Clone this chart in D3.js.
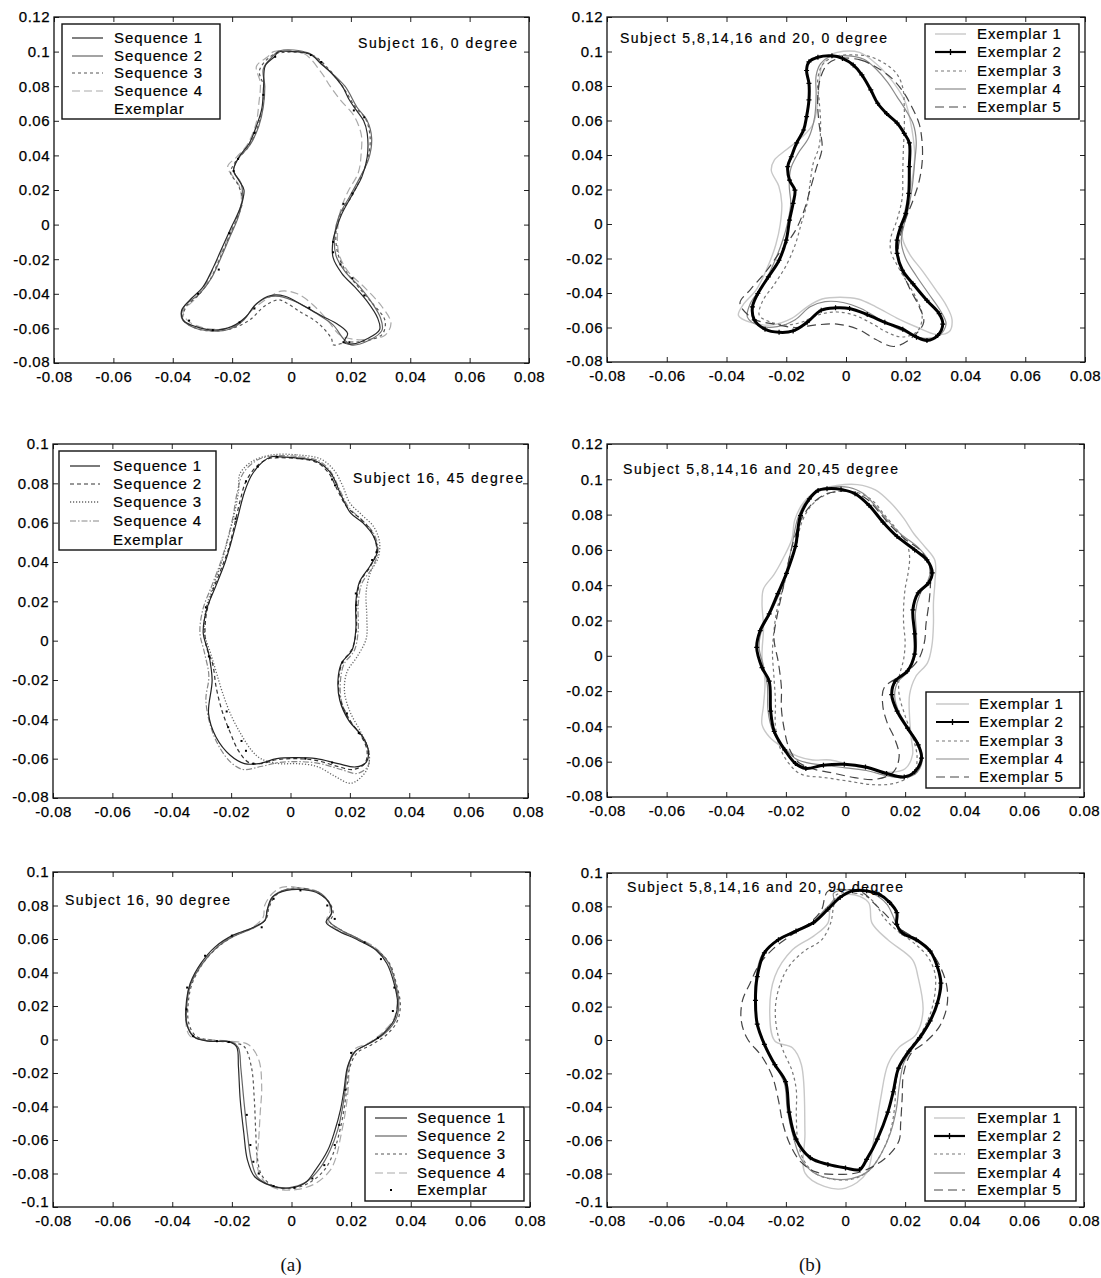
<!DOCTYPE html>
<html>
<head>
<meta charset="utf-8">
<title>Silhouette contours</title>
<script src="https://cdn.jsdelivr.net/npm/d3@7/dist/d3.min.js"></script>
<style>
  body { margin: 0; background: #fff; }
  svg { display: block; font-family: "Liberation Sans", Arial, sans-serif; }
  .tick-label { font-size: 15px; letter-spacing: 0.5px; fill: #000; stroke: #000; stroke-width: 0.25px; }
  .legend-text { font-size: 15px; letter-spacing: 0.9px; fill: #000; stroke: #000; stroke-width: 0.2px; }
  .title-text { font-size: 14px; fill: #000; stroke: #000; stroke-width: 0.2px; }
  .caption { font-family: "Liberation Serif", "Times New Roman", serif; font-size: 19px; fill: #111; }
</style>
</head>
<body>
<svg id="fig" width="1101" height="1278"></svg>
<script>

// ---- axis ticks ----
var xTicks = [-0.08, -0.06, -0.04, -0.02, 0, 0.02, 0.04, 0.06, 0.08];
var yTicksA = [-0.08, -0.06, -0.04, -0.02, 0, 0.02, 0.04, 0.06, 0.08, 0.1, 0.12];
var yTicksB = [-0.08, -0.06, -0.04, -0.02, 0, 0.02, 0.04, 0.06, 0.08, 0.1];
var yTicksC = [-0.1, -0.08, -0.06, -0.04, -0.02, 0, 0.02, 0.04, 0.06, 0.08, 0.1];

var seqNames = ["Sequence 1", "Sequence 2", "Sequence 3", "Sequence 4", "Exemplar"];
var exNames = ["Exemplar 1", "Exemplar 2", "Exemplar 3", "Exemplar 4", "Exemplar 5"];

// ---- (a) subject 16, 0 degree ----
var p1Seq1 = [[0.0002,0.100],[0.0063,0.0985],[0.0099,0.093],[0.0135,0.0875],[0.0171,0.080],[0.0195,0.072],[0.0219,0.066],[0.0243,0.060],[0.0255,0.0528],[0.0255,0.039],[0.0237,0.0276],[0.0207,0.018],[0.017,0.0064],[0.0153,-0.0013],[0.014,-0.009],[0.014,-0.019],[0.017,-0.0283],[0.0213,-0.036],[0.0255,-0.0444],[0.029,-0.054],[0.0297,-0.0606],[0.0255,-0.066],[0.0207,-0.069],[0.0177,-0.068],[0.0189,-0.063],[0.0159,-0.058],[0.0099,-0.0525],[0.0038,-0.0467],[-0.0022,-0.0414],[-0.007,-0.041],[-0.0118,-0.0457],[-0.0154,-0.0534],[-0.0202,-0.059],[-0.0262,-0.061],[-0.0322,-0.059],[-0.0364,-0.0553],[-0.037,-0.0495],[-0.0346,-0.0442],[-0.0298,-0.036],[-0.0268,-0.0264],[-0.0238,-0.015],[-0.0202,-0.0013],[-0.0172,0.010],[-0.016,0.020],[-0.0177,0.0255],[-0.0195,0.0315],[-0.0177,0.039],[-0.0142,0.047],[-0.0118,0.057],[-0.010,0.067],[-0.0094,0.080],[-0.0088,0.092],[-0.0058,0.097],[-0.0045,0.0997]];
var p1Seq2 = [[-0.004,0.1005],[0.006,0.099],[0.012,0.090],[0.018,0.080],[0.022,0.068],[0.0255,0.060],[0.027,0.050],[0.026,0.038],[0.023,0.027],[0.0195,0.016],[0.016,0.005],[0.0145,-0.006],[0.015,-0.018],[0.018,-0.027],[0.023,-0.036],[0.027,-0.045],[0.030,-0.054],[0.0305,-0.061],[0.026,-0.067],[0.020,-0.0695],[0.0175,-0.066],[0.014,-0.058],[0.008,-0.051],[0.002,-0.045],[-0.004,-0.0415],[-0.008,-0.042],[-0.0125,-0.047],[-0.016,-0.055],[-0.021,-0.0605],[-0.027,-0.0615],[-0.033,-0.0595],[-0.037,-0.054],[-0.036,-0.047],[-0.031,-0.040],[-0.027,-0.031],[-0.024,-0.020],[-0.021,-0.008],[-0.018,0.004],[-0.0165,0.015],[-0.017,0.024],[-0.0195,0.031],[-0.018,0.038],[-0.014,0.046],[-0.011,0.057],[-0.0095,0.068],[-0.009,0.080],[-0.0095,0.090],[-0.0065,0.097]];
var p1Seq3 = [[-0.003,0.0995],[0.007,0.098],[0.013,0.089],[0.0175,0.079],[0.0215,0.068],[0.025,0.061],[0.0265,0.050],[0.0258,0.039],[0.0235,0.028],[0.0205,0.017],[0.0165,0.006],[0.015,-0.004],[0.0155,-0.016],[0.018,-0.026],[0.0225,-0.036],[0.0275,-0.046],[0.0315,-0.0555],[0.0305,-0.0635],[0.024,-0.0675],[0.0185,-0.068],[0.014,-0.0695],[0.0135,-0.066],[0.009,-0.057],[0.003,-0.0505],[-0.002,-0.045],[-0.0045,-0.0435],[-0.009,-0.047],[-0.014,-0.055],[-0.020,-0.060],[-0.026,-0.0615],[-0.032,-0.060],[-0.0365,-0.055],[-0.0355,-0.0475],[-0.0315,-0.041],[-0.0275,-0.032],[-0.0245,-0.021],[-0.0215,-0.009],[-0.0185,0.003],[-0.0165,0.014],[-0.018,0.023],[-0.0205,0.030],[-0.019,0.036],[-0.0145,0.045],[-0.0115,0.056],[-0.0098,0.067],[-0.0092,0.079],[-0.0108,0.089],[-0.0068,0.0975]];
var p1Seq4 = [[-0.006,0.100],[0.004,0.099],[0.010,0.088],[0.013,0.080],[0.0165,0.072],[0.021,0.063],[0.0235,0.052],[0.0235,0.042],[0.0225,0.030],[0.019,0.019],[0.0165,0.008],[0.0155,-0.005],[0.016,-0.017],[0.019,-0.027],[0.025,-0.037],[0.0305,-0.0475],[0.0335,-0.057],[0.0315,-0.064],[0.027,-0.066],[0.022,-0.0665],[0.0165,-0.064],[0.012,-0.055],[0.007,-0.046],[0.002,-0.040],[-0.0035,-0.0385],[-0.008,-0.0425],[-0.013,-0.049],[-0.018,-0.0575],[-0.024,-0.0605],[-0.030,-0.0595],[-0.035,-0.0555],[-0.0365,-0.050],[-0.033,-0.044],[-0.029,-0.035],[-0.026,-0.024],[-0.0225,-0.012],[-0.0195,0.000],[-0.017,0.012],[-0.0175,0.022],[-0.0215,0.0335],[-0.0185,0.039],[-0.015,0.046],[-0.012,0.058],[-0.011,0.070],[-0.0105,0.082],[-0.0118,0.0915],[-0.008,0.097]];
var p1Exemplar = [[0.0065,0.098],[0.010,0.094],[0.021,0.066],[0.0245,0.062],[0.0205,0.018],[0.0175,0.012],[0.014,-0.010],[0.014,-0.016],[0.0165,-0.023],[0.0205,-0.031],[0.0245,-0.041],[0.0175,-0.068],[0.0195,-0.068],[0.006,-0.048],[-0.0125,-0.0485],[-0.0175,-0.0565],[-0.0265,-0.061],[-0.0345,-0.0555],[-0.0315,-0.040],[-0.0245,-0.026],[-0.021,-0.005],[-0.0195,0.031],[-0.018,0.038],[-0.0125,0.053],[-0.0095,0.075],[-0.0055,0.097]];

// ---- (b) subjects 5,8,14,16,20, 0 degree ----
var p2Ex1 = [[-0.003,0.0995],[0.0045,0.0995],[0.010,0.093],[0.014,0.086],[0.0175,0.078],[0.020,0.070],[0.0215,0.060],[0.0225,0.050],[0.023,0.040],[0.0225,0.030],[0.0215,0.020],[0.020,0.010],[0.019,0.000],[0.019,-0.009],[0.0215,-0.018],[0.0255,-0.027],[0.030,-0.038],[0.0335,-0.047],[0.0355,-0.0555],[0.0345,-0.0625],[0.030,-0.064],[0.024,-0.060],[0.017,-0.0545],[0.010,-0.048],[0.004,-0.0435],[-0.002,-0.0425],[-0.008,-0.0435],[-0.013,-0.048],[-0.018,-0.0545],[-0.025,-0.0585],[-0.032,-0.057],[-0.036,-0.053],[-0.0345,-0.047],[-0.030,-0.038],[-0.0265,-0.026],[-0.0235,-0.012],[-0.022,0.000],[-0.0215,0.012],[-0.0225,0.022],[-0.025,0.031],[-0.024,0.037],[-0.020,0.043],[-0.015,0.050],[-0.011,0.058],[-0.0095,0.070],[-0.009,0.082],[-0.008,0.092],[-0.005,0.098]];
var p2Ex2 = [[-0.0047,0.0975],[-0.0094,0.0967],[-0.0124,0.094],[-0.0132,0.089],[-0.0124,0.0815],[-0.0124,0.072],[-0.0132,0.0623],[-0.0142,0.0545],[-0.0165,0.047],[-0.0183,0.039],[-0.0195,0.0333],[-0.0189,0.0254],[-0.0171,0.0196],[-0.0177,0.012],[-0.0189,0.0023],[-0.020,-0.0093],[-0.0224,-0.021],[-0.026,-0.0307],[-0.0295,-0.0403],[-0.0313,-0.048],[-0.0307,-0.0556],[-0.0271,-0.061],[-0.0224,-0.0628],[-0.0177,-0.062],[-0.013,-0.057],[-0.0083,-0.050],[-0.0035,-0.0486],[0.0012,-0.049],[0.0071,-0.0525],[0.013,-0.057],[0.019,-0.061],[0.0236,-0.0656],[0.0271,-0.0675],[0.0307,-0.0646],[0.0324,-0.058],[0.0312,-0.052],[0.0271,-0.0443],[0.0224,-0.0346],[0.0189,-0.0268],[0.0171,-0.017],[0.0171,-0.0093],[0.0183,-0.0016],[0.020,0.0062],[0.021,0.0178],[0.0212,0.0333],[0.0212,0.047],[0.0195,0.0525],[0.0171,0.0585],[0.0136,0.064],[0.0106,0.070],[0.0083,0.0777],[0.0053,0.0865],[0.0024,0.0922],[-0.0012,0.096]];
var p2Ex3 = [[-0.004,0.097],[0.003,0.098],[0.008,0.097],[0.013,0.093],[0.017,0.087],[0.019,0.079],[0.0195,0.068],[0.0195,0.055],[0.0192,0.043],[0.019,0.030],[0.0188,0.015],[0.017,0.002],[0.015,-0.008],[0.015,-0.016],[0.0175,-0.025],[0.0205,-0.034],[0.0235,-0.043],[0.0255,-0.053],[0.024,-0.062],[0.019,-0.0655],[0.014,-0.063],[0.009,-0.058],[0.003,-0.053],[-0.003,-0.051],[-0.009,-0.0525],[-0.015,-0.057],[-0.020,-0.0585],[-0.025,-0.057],[-0.029,-0.053],[-0.028,-0.045],[-0.024,-0.035],[-0.020,-0.024],[-0.017,-0.012],[-0.015,0.000],[-0.013,0.012],[-0.012,0.024],[-0.011,0.035],[-0.009,0.045],[-0.0085,0.058],[-0.009,0.072],[-0.0095,0.083],[-0.008,0.092]];
var p2Ex4 = [[-0.006,0.0965],[0.001,0.0975],[0.006,0.0955],[0.010,0.090],[0.014,0.082],[0.017,0.074],[0.020,0.066],[0.0225,0.058],[0.0235,0.048],[0.023,0.036],[0.0222,0.022],[0.021,0.010],[0.0195,0.000],[0.0185,-0.010],[0.020,-0.020],[0.0235,-0.030],[0.0275,-0.040],[0.0315,-0.050],[0.0335,-0.058],[0.031,-0.065],[0.025,-0.066],[0.019,-0.062],[0.012,-0.056],[0.005,-0.049],[-0.001,-0.0455],[-0.007,-0.045],[-0.012,-0.048],[-0.017,-0.0555],[-0.023,-0.0595],[-0.029,-0.059],[-0.033,-0.054],[-0.032,-0.046],[-0.028,-0.036],[-0.0245,-0.024],[-0.0215,-0.011],[-0.0195,0.001],[-0.0185,0.012],[-0.019,0.022],[-0.0185,0.032],[-0.016,0.041],[-0.0125,0.050],[-0.0105,0.062],[-0.010,0.075],[-0.010,0.086],[-0.0085,0.093]];
var p2Ex5 = [[-0.002,0.096],[0.005,0.095],[0.010,0.091],[0.015,0.085],[0.019,0.077],[0.022,0.068],[0.0245,0.058],[0.0255,0.047],[0.0255,0.036],[0.0245,0.025],[0.0225,0.014],[0.020,0.003],[0.018,-0.008],[0.0175,-0.018],[0.019,-0.028],[0.0215,-0.038],[0.0245,-0.048],[0.026,-0.057],[0.022,-0.066],[0.016,-0.071],[0.010,-0.067],[0.004,-0.061],[-0.003,-0.058],[-0.010,-0.0585],[-0.017,-0.060],[-0.024,-0.058],[-0.031,-0.055],[-0.0355,-0.046],[-0.032,-0.038],[-0.027,-0.028],[-0.022,-0.016],[-0.017,-0.004],[-0.014,0.008],[-0.012,0.020],[-0.010,0.032],[-0.008,0.044],[-0.009,0.058],[-0.0095,0.072],[-0.0085,0.085],[-0.006,0.093]];

// ---- (a) subject 16, 45 degree ----
var p3Seq1 = [[-0.0034,0.0935],[0.0027,0.0928],[0.0087,0.0912],[0.0135,0.0853],[0.0172,0.0734],[0.0202,0.065],[0.0244,0.0599],[0.028,0.053],[0.0292,0.045],[0.0268,0.038],[0.0232,0.0297],[0.022,0.0195],[0.022,0.0056],[0.0208,-0.0046],[0.0172,-0.0114],[0.016,-0.020],[0.0166,-0.0303],[0.0196,-0.0405],[0.0244,-0.049],[0.0262,-0.0557],[0.0256,-0.0616],[0.022,-0.0642],[0.016,-0.0625],[0.0087,-0.060],[0.0015,-0.0595],[-0.0046,-0.060],[-0.0106,-0.0625],[-0.0155,-0.0625],[-0.0203,-0.0583],[-0.0251,-0.049],[-0.0276,-0.0371],[-0.0264,-0.020],[-0.0276,-0.0063],[-0.0294,0.0039],[-0.0282,0.0161],[-0.0251,0.028],[-0.022,0.040],[-0.0203,0.0484],[-0.0179,0.062],[-0.0155,0.0756],[-0.0131,0.0841],[-0.0094,0.0909],[-0.0064,0.0935]];
var p3Seq2 = [[-0.004,0.093],[0.003,0.0925],[0.009,0.0905],[0.013,0.085],[0.016,0.076],[0.019,0.068],[0.0235,0.062],[0.0275,0.055],[0.029,0.046],[0.027,0.038],[0.0235,0.030],[0.0222,0.019],[0.0222,0.006],[0.0208,-0.004],[0.0175,-0.011],[0.0162,-0.020],[0.0168,-0.030],[0.0198,-0.040],[0.024,-0.049],[0.0258,-0.056],[0.025,-0.0625],[0.021,-0.0655],[0.016,-0.064],[0.009,-0.061],[0.002,-0.060],[-0.0045,-0.0605],[-0.010,-0.0625],[-0.014,-0.062],[-0.0175,-0.056],[-0.0205,-0.046],[-0.023,-0.036],[-0.025,-0.024],[-0.0262,-0.012],[-0.0285,-0.002],[-0.0285,0.012],[-0.0265,0.024],[-0.0235,0.036],[-0.021,0.046],[-0.019,0.058],[-0.017,0.071],[-0.015,0.081],[-0.0115,0.0885],[-0.0075,0.0925]];
var p3Seq3 = [[-0.006,0.0945],[0.002,0.0945],[0.010,0.0925],[0.0145,0.087],[0.0175,0.079],[0.020,0.070],[0.024,0.064],[0.028,0.058],[0.030,0.050],[0.0295,0.042],[0.027,0.035],[0.0255,0.025],[0.0257,0.012],[0.0255,0.001],[0.0225,-0.008],[0.019,-0.016],[0.0182,-0.026],[0.020,-0.036],[0.0235,-0.046],[0.0262,-0.055],[0.0262,-0.064],[0.023,-0.0705],[0.020,-0.0725],[0.015,-0.069],[0.009,-0.064],[0.002,-0.0625],[-0.004,-0.0625],[-0.010,-0.060],[-0.013,-0.056],[-0.0165,-0.048],[-0.020,-0.038],[-0.023,-0.026],[-0.025,-0.016],[-0.027,-0.006],[-0.029,0.004],[-0.0285,0.016],[-0.026,0.028],[-0.0232,0.040],[-0.021,0.052],[-0.019,0.064],[-0.0175,0.076],[-0.017,0.085],[-0.0125,0.0915]];
var p3Seq4 = [[-0.005,0.094],[0.003,0.0935],[0.0095,0.0915],[0.0135,0.086],[0.0165,0.077],[0.0195,0.068],[0.024,0.0615],[0.028,0.0545],[0.0295,0.046],[0.0275,0.037],[0.024,0.029],[0.0228,0.018],[0.0228,0.005],[0.0215,-0.005],[0.018,-0.012],[0.0168,-0.021],[0.0172,-0.031],[0.0202,-0.041],[0.0245,-0.050],[0.0265,-0.057],[0.026,-0.064],[0.0225,-0.0675],[0.017,-0.0655],[0.010,-0.0625],[0.003,-0.0615],[-0.004,-0.062],[-0.010,-0.064],[-0.016,-0.0655],[-0.020,-0.062],[-0.024,-0.054],[-0.027,-0.043],[-0.0285,-0.030],[-0.0275,-0.018],[-0.029,-0.006],[-0.0305,0.004],[-0.0295,0.016],[-0.0265,0.028],[-0.0235,0.040],[-0.0215,0.050],[-0.0195,0.062],[-0.018,0.075],[-0.016,0.085],[-0.011,0.092]];
var p3Exemplar = [[-0.0045,0.0935],[-0.011,0.0885],[-0.015,0.081],[-0.0185,0.062],[-0.0285,0.017],[-0.0275,-0.008],[-0.0215,-0.036],[-0.021,-0.044],[-0.0165,-0.051],[-0.015,-0.056],[-0.0125,-0.0625],[0.014,0.082],[0.015,0.079],[0.029,0.045],[0.0275,0.041],[0.022,0.024],[0.0222,0.018],[0.0175,-0.011],[0.019,-0.037],[0.023,-0.047],[0.014,-0.062],[0.005,-0.060]];

// ---- (b) subjects 5,8,14,16,20, 45 degree ----
var p4Ex1 = [[-0.003,0.0965],[0.004,0.097],[0.010,0.094],[0.015,0.087],[0.0195,0.078],[0.023,0.069],[0.0265,0.062],[0.030,0.054],[0.030,0.042],[0.0295,0.030],[0.0295,0.018],[0.029,0.006],[0.0275,-0.004],[0.0235,-0.012],[0.0215,-0.022],[0.0215,-0.035],[0.022,-0.046],[0.0225,-0.056],[0.020,-0.064],[0.015,-0.066],[0.008,-0.064],[0.002,-0.062],[-0.005,-0.059],[-0.011,-0.059],[-0.016,-0.057],[-0.021,-0.052],[-0.0255,-0.046],[-0.028,-0.039],[-0.0275,-0.028],[-0.027,-0.015],[-0.028,0.000],[-0.0275,0.016],[-0.028,0.030],[-0.0275,0.038],[-0.024,0.046],[-0.021,0.055],[-0.018,0.066],[-0.017,0.077],[-0.014,0.087],[-0.009,0.094]];
var p4Ex2 = [[-0.0062,0.0947],[-0.0015,0.0943],[0.0032,0.0918],[0.0079,0.0852],[0.0126,0.0757],[0.0173,0.0676],[0.0232,0.060],[0.0273,0.0543],[0.0291,0.047],[0.0279,0.0413],[0.0244,0.0357],[0.0226,0.026],[0.0232,0.0124],[0.0232,0.001],[0.0208,-0.0086],[0.0167,-0.0143],[0.0155,-0.022],[0.0173,-0.0314],[0.0208,-0.041],[0.0244,-0.0505],[0.0255,-0.058],[0.0232,-0.0657],[0.0197,-0.0686],[0.0138,-0.0667],[0.0067,-0.063],[-0.0004,-0.0615],[-0.0074,-0.062],[-0.0133,-0.0638],[-0.0168,-0.061],[-0.0204,-0.0533],[-0.0239,-0.0429],[-0.0251,-0.0314],[-0.0256,-0.0143],[-0.028,-0.0067],[-0.0298,0.0048],[-0.0286,0.0143],[-0.0256,0.0238],[-0.0227,0.0352],[-0.0198,0.0467],[-0.0168,0.062],[-0.0151,0.0795],[-0.0121,0.0889],[-0.0092,0.0937]];
var p4Ex3 = [[-0.003,0.093],[0.004,0.0925],[0.009,0.088],[0.013,0.080],[0.017,0.072],[0.0205,0.064],[0.0215,0.056],[0.021,0.047],[0.020,0.038],[0.0195,0.028],[0.0195,0.018],[0.020,0.008],[0.0195,-0.002],[0.018,-0.012],[0.018,-0.022],[0.020,-0.034],[0.0225,-0.046],[0.024,-0.057],[0.023,-0.066],[0.017,-0.072],[0.009,-0.073],[0.001,-0.071],[-0.007,-0.069],[-0.015,-0.067],[-0.019,-0.061],[-0.022,-0.052],[-0.0235,-0.040],[-0.0235,-0.026],[-0.024,-0.012],[-0.0245,0.002],[-0.024,0.014],[-0.023,0.026],[-0.021,0.038],[-0.019,0.050],[-0.0165,0.062],[-0.015,0.074],[-0.012,0.084],[-0.008,0.090]];
var p4Ex4 = [[-0.005,0.0955],[0.001,0.0955],[0.006,0.092],[0.010,0.085],[0.014,0.077],[0.0185,0.069],[0.024,0.062],[0.0275,0.055],[0.0285,0.048],[0.0275,0.042],[0.025,0.035],[0.0235,0.025],[0.0238,0.012],[0.0235,0.001],[0.021,-0.009],[0.0175,-0.015],[0.0165,-0.023],[0.018,-0.032],[0.0212,-0.041],[0.0245,-0.050],[0.0258,-0.058],[0.024,-0.066],[0.020,-0.069],[0.014,-0.068],[0.007,-0.065],[0.000,-0.0635],[-0.007,-0.062],[-0.013,-0.0605],[-0.017,-0.058],[-0.021,-0.051],[-0.0245,-0.042],[-0.026,-0.031],[-0.0262,-0.017],[-0.0275,-0.006],[-0.029,0.005],[-0.028,0.015],[-0.025,0.025],[-0.022,0.036],[-0.020,0.047],[-0.018,0.062],[-0.016,0.078],[-0.013,0.088],[-0.009,0.094]];
var p4Ex5 = [[-0.006,0.092],[0.001,0.093],[0.007,0.089],[0.011,0.082],[0.015,0.074],[0.020,0.066],[0.025,0.060],[0.028,0.052],[0.0285,0.042],[0.028,0.030],[0.027,0.018],[0.0265,0.008],[0.0245,-0.002],[0.020,-0.010],[0.013,-0.018],[0.0125,-0.028],[0.014,-0.038],[0.0165,-0.047],[0.018,-0.057],[0.016,-0.066],[0.010,-0.070],[0.003,-0.069],[-0.004,-0.0665],[-0.011,-0.064],[-0.016,-0.060],[-0.019,-0.052],[-0.0205,-0.042],[-0.0215,-0.030],[-0.0215,-0.018],[-0.0225,-0.004],[-0.024,0.010],[-0.023,0.022],[-0.0215,0.034],[-0.020,0.046],[-0.0185,0.058],[-0.0165,0.070],[-0.014,0.080],[-0.010,0.088]];

// ---- (a) subject 16, 90 degree ----
var p5Seq1 = [[-0.0016,0.089],[0.0044,0.0894],[0.0092,0.087],[0.0128,0.0811],[0.0134,0.0751],[0.0116,0.0701],[0.0152,0.0653],[0.0224,0.0593],[0.0284,0.0533],[0.032,0.0454],[0.0344,0.0335],[0.0356,0.0215],[0.0344,0.0116],[0.0308,0.0036],[0.026,-0.0024],[0.0212,-0.0074],[0.0188,-0.0163],[0.0176,-0.0302],[0.0164,-0.0422],[0.0146,-0.054],[0.0122,-0.066],[0.008,-0.078],[0.0044,-0.0858],[-0.0016,-0.0888],[-0.0076,-0.0868],[-0.0124,-0.0818],[-0.0148,-0.0718],[-0.016,-0.0558],[-0.0172,-0.036],[-0.0178,-0.0162],[-0.0184,-0.0044],[-0.0208,-0.0014],[-0.028,-0.001],[-0.0328,0.0016],[-0.0352,0.0096],[-0.0352,0.0235],[-0.034,0.0334],[-0.0304,0.0454],[-0.0256,0.0553],[-0.0196,0.0623],[-0.0136,0.0663],[-0.0088,0.0713],[-0.0082,0.0771],[-0.0064,0.0851]];
var p5Seq2 = [[-0.002,0.0895],[0.004,0.0895],[0.009,0.088],[0.0125,0.082],[0.0135,0.076],[0.0125,0.071],[0.016,0.066],[0.0225,0.060],[0.0285,0.0535],[0.0325,0.046],[0.0348,0.034],[0.036,0.022],[0.035,0.012],[0.0315,0.004],[0.0265,-0.002],[0.0215,-0.007],[0.019,-0.016],[0.018,-0.030],[0.017,-0.042],[0.0155,-0.054],[0.013,-0.066],[0.0095,-0.077],[0.005,-0.085],[-0.001,-0.0885],[-0.007,-0.087],[-0.0115,-0.082],[-0.0135,-0.072],[-0.0148,-0.056],[-0.016,-0.036],[-0.017,-0.017],[-0.0178,-0.005],[-0.020,-0.0015],[-0.027,-0.001],[-0.0325,0.0015],[-0.035,0.009],[-0.035,0.023],[-0.0338,0.033],[-0.030,0.045],[-0.025,0.055],[-0.0195,0.0615],[-0.0135,0.066],[-0.009,0.071],[-0.008,0.078],[-0.006,0.0855]];
var p5Seq3 = [[-0.001,0.090],[0.005,0.090],[0.0095,0.087],[0.013,0.081],[0.014,0.075],[0.013,0.070],[0.0165,0.0655],[0.023,0.0595],[0.029,0.053],[0.033,0.045],[0.0352,0.033],[0.0365,0.021],[0.0355,0.011],[0.032,0.003],[0.027,-0.003],[0.022,-0.008],[0.0195,-0.017],[0.0185,-0.030],[0.0175,-0.043],[0.016,-0.056],[0.014,-0.068],[0.011,-0.078],[0.006,-0.0855],[0.000,-0.089],[-0.006,-0.0875],[-0.010,-0.081],[-0.0115,-0.070],[-0.012,-0.055],[-0.0125,-0.035],[-0.0135,-0.016],[-0.016,-0.004],[-0.020,-0.002],[-0.0265,-0.0005],[-0.032,0.002],[-0.0345,0.010],[-0.0345,0.024],[-0.0332,0.034],[-0.0295,0.046],[-0.0245,0.0555],[-0.019,0.062],[-0.013,0.0665],[-0.0085,0.072],[-0.0075,0.079],[-0.005,0.0865]];
var p5Seq4 = [[-0.003,0.091],[0.003,0.0905],[0.0085,0.0885],[0.012,0.083],[0.013,0.077],[0.0118,0.071],[0.015,0.066],[0.0215,0.061],[0.028,0.055],[0.032,0.047],[0.0345,0.036],[0.0355,0.024],[0.0345,0.013],[0.031,0.005],[0.026,-0.002],[0.021,-0.006],[0.0195,-0.016],[0.019,-0.030],[0.018,-0.044],[0.0165,-0.058],[0.015,-0.070],[0.013,-0.078],[0.008,-0.086],[0.002,-0.0895],[-0.004,-0.0895],[-0.009,-0.085],[-0.0115,-0.076],[-0.011,-0.060],[-0.0105,-0.044],[-0.010,-0.028],[-0.011,-0.012],[-0.0145,-0.003],[-0.021,-0.001],[-0.0275,0.000],[-0.034,0.002],[-0.0355,0.012],[-0.035,0.024],[-0.0335,0.035],[-0.030,0.046],[-0.0245,0.056],[-0.019,0.0625],[-0.013,0.067],[-0.0095,0.073],[-0.009,0.080],[-0.0065,0.087]];
var p5Exemplar = [[-0.015,-0.045],[-0.0138,-0.063],[-0.0128,-0.073],[-0.011,-0.080],[-0.006,-0.0875],[0.001,-0.0885],[0.007,-0.083],[0.011,-0.075],[0.0145,-0.063],[0.016,-0.051],[0.018,-0.030],[0.020,-0.008],[0.029,0.001],[0.034,0.017],[0.0345,0.031],[0.030,0.048],[0.0245,0.058],[0.0145,0.072],[0.012,0.080],[0.003,0.089],[-0.006,0.084],[-0.010,0.067],[-0.020,0.062],[-0.029,0.050],[-0.035,0.031],[-0.0352,0.018],[-0.033,0.002],[-0.025,-0.001],[-0.021,-0.0015]];

// ---- (b) subjects 5,8,14,16,20, 90 degree ----
var p6Ex1 = [[0.0012,0.0873],[0.0077,0.0824],[0.0089,0.070],[0.0142,0.060],[0.0225,0.048],[0.0243,0.038],[0.026,0.0176],[0.0237,0.0034],[0.0178,-0.0047],[0.0142,-0.0148],[0.0118,-0.035],[0.0095,-0.0593],[0.0071,-0.0796],[0.000,-0.0887],[-0.0071,-0.0877],[-0.0136,-0.0796],[-0.0136,-0.0553],[-0.0148,-0.0148],[-0.0178,-0.0047],[-0.0237,-0.0006],[-0.0254,0.0156],[-0.0237,0.038],[-0.0178,0.054],[-0.0107,0.0622],[-0.0059,0.070],[-0.0047,0.0824]];
var p6Ex2 = [[0.0024,0.0893],[0.0071,0.0893],[0.0112,0.0873],[0.0148,0.0824],[0.0172,0.0763],[0.0172,0.0692],[0.019,0.0642],[0.0237,0.0601],[0.0284,0.0532],[0.0308,0.044],[0.032,0.034],[0.0308,0.022],[0.0284,0.0115],[0.0249,0.0014],[0.0213,-0.0067],[0.0178,-0.0168],[0.016,-0.031],[0.0142,-0.0432],[0.0107,-0.0593],[0.0071,-0.0715],[0.0047,-0.0776],[0.000,-0.0766],[-0.0059,-0.0745],[-0.0118,-0.0705],[-0.0166,-0.0593],[-0.0189,-0.0432],[-0.0201,-0.0249],[-0.0237,-0.0148],[-0.0272,-0.0026],[-0.0296,0.0095],[-0.0302,0.0237],[-0.0296,0.038],[-0.0272,0.0522],[-0.0225,0.0601],[-0.0166,0.0652],[-0.0107,0.0703],[-0.0059,0.0783],[-0.0018,0.0854]];
var p6Ex3 = [[-0.003,0.087],[0.003,0.088],[0.008,0.085],[0.011,0.079],[0.013,0.073],[0.017,0.066],[0.023,0.058],[0.0275,0.050],[0.030,0.040],[0.030,0.028],[0.0285,0.016],[0.026,0.006],[0.0225,-0.003],[0.019,-0.012],[0.017,-0.025],[0.0165,-0.040],[0.015,-0.055],[0.012,-0.068],[0.008,-0.078],[0.003,-0.083],[-0.004,-0.0835],[-0.010,-0.080],[-0.014,-0.072],[-0.016,-0.060],[-0.0165,-0.045],[-0.0165,-0.030],[-0.018,-0.018],[-0.021,-0.006],[-0.023,0.006],[-0.0235,0.020],[-0.022,0.033],[-0.019,0.044],[-0.014,0.053],[-0.008,0.060],[-0.005,0.070],[-0.004,0.080]];
var p6Ex4 = [[-0.004,0.088],[0.002,0.090],[0.007,0.089],[0.011,0.086],[0.014,0.081],[0.016,0.074],[0.0175,0.068],[0.022,0.062],[0.027,0.056],[0.030,0.048],[0.0315,0.037],[0.031,0.025],[0.029,0.013],[0.026,0.003],[0.0225,-0.005],[0.0195,-0.014],[0.018,-0.028],[0.017,-0.042],[0.015,-0.056],[0.012,-0.068],[0.008,-0.078],[0.002,-0.083],[-0.005,-0.083],[-0.011,-0.079],[-0.015,-0.071],[-0.0175,-0.058],[-0.0195,-0.042],[-0.0205,-0.026],[-0.024,-0.014],[-0.0275,-0.002],[-0.0295,0.010],[-0.0305,0.024],[-0.030,0.038],[-0.028,0.051],[-0.0235,0.059],[-0.0175,0.065],[-0.0115,0.070],[-0.007,0.078],[-0.004,0.084]];
var p6Ex5 = [[-0.006,0.089],[0.001,0.090],[0.006,0.088],[0.0095,0.082],[0.013,0.076],[0.018,0.067],[0.024,0.060],[0.029,0.052],[0.032,0.043],[0.034,0.032],[0.034,0.020],[0.0315,0.008],[0.027,-0.001],[0.022,-0.008],[0.0195,-0.020],[0.019,-0.035],[0.0185,-0.050],[0.018,-0.060],[0.015,-0.068],[0.010,-0.075],[0.004,-0.0795],[-0.003,-0.0805],[-0.010,-0.079],[-0.015,-0.073],[-0.0185,-0.063],[-0.021,-0.050],[-0.0225,-0.036],[-0.0245,-0.022],[-0.028,-0.010],[-0.033,0.001],[-0.035,0.012],[-0.0345,0.024],[-0.032,0.034],[-0.029,0.045],[-0.024,0.055],[-0.018,0.063],[-0.012,0.070],[-0.008,0.078],[-0.007,0.085]];

// ---- line styles ----
var seqStyleA = [
  {kind: "line", color: "#2a2a2a", width: 1.2, dash: null},
  {kind: "line", color: "#666", width: 1.2, dash: null},
  {kind: "line", color: "#555", width: 1.2, dash: "3,3"},
  {kind: "line", color: "#aaa", width: 1.2, dash: "8,4"},
  {kind: "dots", color: "#000"}
];
var seqStyleB = [
  {kind: "line", color: "#222", width: 1.2, dash: null},
  {kind: "line", color: "#333", width: 1.2, dash: "4,3"},
  {kind: "line", color: "#666", width: 1.3, dash: "1.2,1.8"},
  {kind: "line", color: "#888", width: 1.2, dash: "6,2,1.5,2"},
  {kind: "dots", color: "#000"}
];
var exStyle = [
  {kind: "line", color: "#c8c8c8", width: 1.4, dash: null},
  {kind: "thick", color: "#000", width: 3, dash: null},
  {kind: "line", color: "#777", width: 1.2, dash: "3,3"},
  {kind: "line", color: "#8a8a8a", width: 1.2, dash: null},
  {kind: "line", color: "#444", width: 1.2, dash: "9,5"}
];

// ---- panel layout ----
var panels = [
  {left: 54, right: 529, top: 17, bottom: 363, yDom: [-0.08, 0.12], yTicks: yTicksA,
   series: [p1Seq1, p1Seq2, p1Seq3, p1Seq4, p1Exemplar], names: seqNames, styles: seqStyleA,
   title: "Subject 16, 0 degree", tx: 358, ty: 43, tw: 159,
   legend: {x: 62, y: 24, w: 158, h: 95, rows: [38, 56, 73, 91, 109], sx: 72, sw: 31, tx: 114, dotSample: false}},
  {left: 607, right: 1085, top: 17, bottom: 362, yDom: [-0.08, 0.12], yTicks: yTicksA,
   series: [p2Ex1, p2Ex2, p2Ex3, p2Ex4, p2Ex5], names: exNames, styles: exStyle,
   title: "Subject 5,8,14,16 and 20, 0 degree", tx: 620, ty: 38, tw: 267,
   legend: {x: 925, y: 24, w: 154, h: 95, rows: [34, 52, 71, 89, 107], sx: 935, sw: 31, tx: 977}},
  {left: 53, right: 528, top: 444, bottom: 798, yDom: [-0.08, 0.1], yTicks: yTicksB,
   series: [p3Seq1, p3Seq2, p3Seq3, p3Seq4, p3Exemplar], names: seqNames, styles: seqStyleB,
   title: "Subject 16, 45 degree", tx: 353, ty: 478, tw: 170,
   legend: {x: 59, y: 451, w: 157, h: 99, rows: [466, 484, 502, 521, 540], sx: 70, sw: 30, tx: 113, dotSample: false}},
  {left: 607, right: 1084, top: 444, bottom: 797, yDom: [-0.08, 0.12], yTicks: yTicksA,
   series: [p4Ex1, p4Ex2, p4Ex3, p4Ex4, p4Ex5], names: exNames, styles: exStyle,
   title: "Subject 5,8,14,16 and 20,45 degree", tx: 623, ty: 469, tw: 275,
   legend: {x: 926, y: 692, w: 154, h: 96, rows: [704, 722, 741, 759, 777], sx: 936, sw: 33, tx: 979}},
  {left: 53, right: 530, top: 872, bottom: 1207, yDom: [-0.1, 0.1], yTicks: yTicksC,
   series: [p5Seq1, p5Seq2, p5Seq3, p5Seq4, p5Exemplar], names: seqNames, styles: seqStyleA,
   title: "Subject 16, 90 degree", tx: 65, ty: 900, tw: 165,
   legend: {x: 365, y: 1107, w: 159, h: 94, rows: [1118, 1136, 1154, 1173, 1190], sx: 375, sw: 32, tx: 417, dotSample: true}},
  {left: 607, right: 1084, top: 873, bottom: 1207, yDom: [-0.1, 0.1], yTicks: yTicksC,
   series: [p6Ex1, p6Ex2, p6Ex3, p6Ex4, p6Ex5], names: exNames, styles: exStyle,
   title: "Subject 5,8,14,16 and 20, 90 degree", tx: 627, ty: 887, tw: 276,
   legend: {x: 925, y: 1107, w: 151, h: 94, rows: [1118, 1136, 1154, 1173, 1190], sx: 934, sw: 31, tx: 977}}
];

var svg = d3.select("#fig");
svg.append("rect").attr("width", 1101).attr("height", 1278).attr("fill", "#fff");

function fmt(v) {
  if (Math.abs(v) < 1e-9) return "0";
  return String(+v.toFixed(2));
}

function drawPanel(p) {
  var g = svg.append("g");
  var x = d3.scaleLinear().domain([-0.08, 0.08]).range([p.left, p.right]);
  var y = d3.scaleLinear().domain(p.yDom).range([p.bottom, p.top]);
  var w = p.right - p.left, h = p.bottom - p.top;

  // axes: inward ticks on all four sides
  var axB = d3.axisBottom(x).tickValues(xTicks).tickSize(5).tickFormat(fmt);
  var axT = d3.axisTop(x).tickValues(xTicks).tickSize(-5).tickFormat("");
  var axL = d3.axisLeft(y).tickValues(p.yTicks).tickSize(5).tickFormat(fmt);
  var axR = d3.axisRight(y).tickValues(p.yTicks).tickSize(-5).tickFormat("");

  var gb = g.append("g").attr("transform", "translate(0," + p.bottom + ")").call(axB);
  gb.selectAll(".tick line").attr("y2", -5);
  gb.selectAll(".tick text").attr("y", 8).attr("dy", "0.71em");
  g.append("g").attr("transform", "translate(0," + p.top + ")").call(axT)
    .selectAll(".tick line").attr("y2", 5);
  var gl = g.append("g").attr("transform", "translate(" + p.left + ",0)").call(axL);
  gl.selectAll(".tick line").attr("x2", 5);
  gl.selectAll(".tick text").attr("x", -4);
  // lowest y label sits a little higher so it clears the first x label
  gl.selectAll(".tick text").filter(function(d) { return d === p.yDom[0]; })
    .attr("dy", p.yDom[0] <= -0.1 ? "-0.05em" : "0.2em");
  g.append("g").attr("transform", "translate(" + p.right + ",0)").call(axR)
    .selectAll(".tick line").attr("x2", -5);
  g.selectAll(".domain").remove();
  g.selectAll(".tick line").attr("stroke", "#222").attr("stroke-width", 1);
  g.selectAll(".tick text").attr("class", "tick-label");

  // contours
  var line = d3.line()
    .x(function(d) { return x(d[0]); })
    .y(function(d) { return y(d[1]); })
    .curve(d3.curveCatmullRomClosed.alpha(0.5));

  // light lines first, heavy lines last
  var order = p.styles === exStyle ? [0, 2, 3, 4, 1] : [3, 2, 1, 0, 4];
  order.forEach(function(i) {
    var s = p.styles[i], data = p.series[i];
    if (s.kind === "dots") {
      g.append("g").selectAll("rect").data(data).enter().append("rect")
        .attr("x", function(d) { return x(d[0]) - 1; })
        .attr("y", function(d) { return y(d[1]) - 1; })
        .attr("width", 2).attr("height", 2).attr("fill", s.color);
      return;
    }
    g.append("path").datum(data)
      .attr("d", line)
      .attr("fill", "none")
      .attr("stroke", s.color)
      .attr("stroke-width", s.width)
      .attr("stroke-dasharray", s.dash)
      .attr("stroke-linejoin", "round");
    if (s.kind === "thick") {
      g.append("g").selectAll("path").data(data).enter().append("path")
        .attr("d", function(d) {
          var cx = x(d[0]), cy = y(d[1]);
          return "M" + (cx - 2.5) + "," + cy + "h5M" + cx + "," + (cy - 2.5) + "v5";
        })
        .attr("stroke", "#000").attr("stroke-width", 1.2);
    }
  });

  // frame
  g.append("rect").attr("x", p.left).attr("y", p.top).attr("width", w).attr("height", h)
    .attr("fill", "none").attr("stroke", "#111").attr("stroke-width", 1.3);

  // title
  g.append("text").attr("class", "title-text")
    .attr("x", p.tx).attr("y", p.ty).attr("dy", "0.35em")
    .attr("textLength", p.tw).attr("lengthAdjust", "spacing")
    .text(p.title);

  // legend
  var L = p.legend;
  var lg = g.append("g");
  lg.append("rect").attr("x", L.x).attr("y", L.y).attr("width", L.w).attr("height", L.h)
    .attr("fill", "#fff").attr("stroke", "#111").attr("stroke-width", 1.4);
  p.names.forEach(function(name, i) {
    var s = p.styles[i], ry = L.rows[i];
    if (s.kind === "dots") {
      if (L.dotSample) {
        lg.append("rect").attr("x", L.sx + L.sw / 2 - 1).attr("y", ry - 1)
          .attr("width", 2).attr("height", 2).attr("fill", "#000");
      }
    } else {
      lg.append("line").attr("x1", L.sx).attr("x2", L.sx + L.sw).attr("y1", ry).attr("y2", ry)
        .attr("stroke", s.color).attr("stroke-width", s.kind === "thick" ? 2.2 : s.width)
        .attr("stroke-dasharray", s.dash);
      if (s.kind === "thick") {
        var mx = L.sx + L.sw / 2;
        lg.append("path").attr("d", "M" + (mx - 3) + "," + ry + "h6M" + mx + "," + (ry - 3) + "v6")
          .attr("stroke", "#000").attr("stroke-width", 1.3);
      }
    }
    lg.append("text").attr("class", "legend-text")
      .attr("x", L.tx).attr("y", ry).attr("dy", "0.36em").text(name);
  });
}

panels.forEach(drawPanel);

svg.append("text").attr("class", "caption").attr("x", 291).attr("y", 1264)
  .attr("text-anchor", "middle").attr("dy", "0.35em").text("(a)");
svg.append("text").attr("class", "caption").attr("x", 810).attr("y", 1264)
  .attr("text-anchor", "middle").attr("dy", "0.35em").text("(b)");

</script>
</body>
</html>
